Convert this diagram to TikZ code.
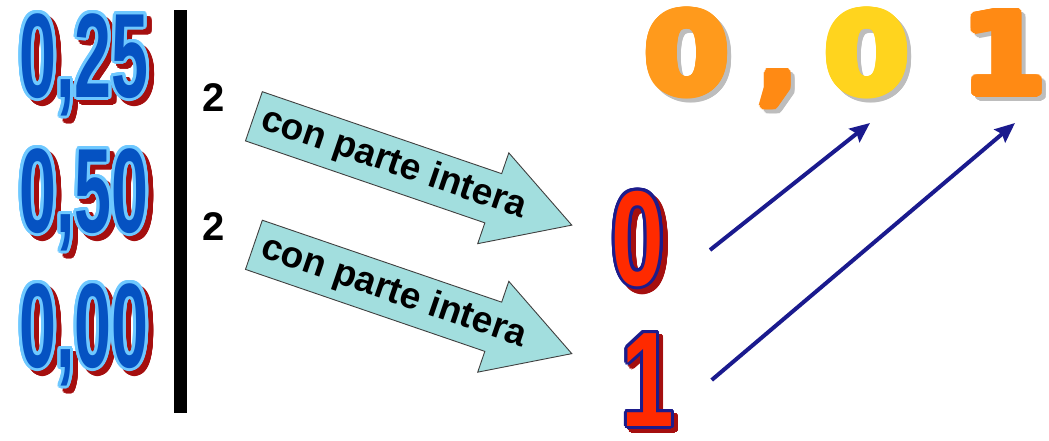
\documentclass[tikz,border=0pt]{standalone}
\usepackage{fontspec}
\setmainfont{Liberation Sans}
\newfontfamily\djv{DejaVu Sans}
\usepackage{contour}
\contournumber{24}
\usetikzlibrary{arrows.meta}
\definecolor{numblue}{HTML}{0552C2}
\definecolor{numlight}{HTML}{6EC8FF}
\definecolor{shadred}{HTML}{A50F0F}
\definecolor{digred}{HTML}{FF2A00}
\definecolor{dignavy}{HTML}{1C1C8C}
\definecolor{arrcyan}{HTML}{A2DEDE}
\definecolor{arrnavy}{HTML}{1A1A8E}
\definecolor{orA}{HTML}{FF9A1C}
\definecolor{orB}{HTML}{FFD41E}
\definecolor{orC}{HTML}{FF8A14}
\definecolor{shgrey}{HTML}{BDBDBD}
\newcommand\leftnum[2]{\contourlength{3pt}\contour{#1}{\scalebox{0.553}[1]{\bfseries\fontsize{120}{120}\selectfont #2}}}
\newcommand\reddig[2]{\contourlength{3pt}\contour{#1}{\scalebox{0.7}[1]{\bfseries\fontsize{135}{135}\selectfont #2}}}
\newcommand\topdig[2]{\contourlength{4pt}\contour{#1}{\scalebox{1.1}[1]{\djv\bfseries\fontsize{111}{111}\selectfont #2}}}
\newcommand\topcomma[2]{\contourlength{4pt}\contour{#1}{\scalebox{0.95}[0.9]{\djv\bfseries\fontsize{111}{111}\selectfont #2}}}
\tikzset{
  txt/.style={inner sep=0pt, outer sep=0pt},
  cyanarrow/.style={draw=black!75, line width=0.9pt, fill=arrcyan, line join=miter},
  arrowtext/.style={inner sep=0pt, font=\bfseries\fontsize{37}{37}\selectfont, rotate=-18.9},
  navyarrow/.style={draw=arrnavy, line width=4pt, -{Stealth[length=20pt,width=17pt,inset=3pt]}},
  two/.style={inner sep=0pt, font=\bfseries\fontsize{40}{40}\selectfont}
}
\begin{document}
\begin{tikzpicture}[x=1pt,y=1pt]
\useasboundingbox (0,0) rectangle (1049,-440);
% left numbers
\node[txt, anchor=base, text=shadred] (n25s) at (89,-102) {\leftnum{shadred}{0,25}};
\node[txt, anchor=base, text=numblue] (n25) at (84,-97) {\leftnum{numlight}{0,25}};
\node[txt, anchor=base, text=shadred] (n50s) at (89,-237) {\leftnum{shadred}{0,50}};
\node[txt, anchor=base, text=numblue] (n50) at (84,-232) {\leftnum{numlight}{0,50}};
\node[txt, anchor=base, text=shadred] (n00s) at (89,-372) {\leftnum{shadred}{0,00}};
\node[txt, anchor=base, text=numblue] (n00) at (84,-367) {\leftnum{numlight}{0,00}};
% bar
\fill[black] (174,-9.5) rectangle (186.5,-413);
% twos
\node[two] (twoA) at (213.5,-98) {2};
\node[two] (twoB) at (213.5,-226.5) {2};
% cyan arrows
\begin{scope}[shift={(253.9,-116.3)}, rotate=-18.9]
  \draw[cyanarrow] (0,26)--(253,26)--(253,48)--(336,0)--(253,-48)--(253,-26)--(0,-26)--cycle;
  \node[arrowtext] (cpA) at (148,0) {con parte intera};
\end{scope}
\begin{scope}[shift={(253.9,-244.8)}, rotate=-18.9]
  \draw[cyanarrow] (0,26)--(253,26)--(253,48)--(336,0)--(253,-48)--(253,-26)--(0,-26)--cycle;
  \node[arrowtext] (cpB) at (148,0) {con parte intera};
\end{scope}
% red digits
\node[txt, anchor=base, text=shadred] (r0s) at (643,-290) {\reddig{shadred}{0}};
\node[txt, anchor=base, text=digred] (r0) at (638,-285) {\reddig{dignavy}{0}};
\node[txt, anchor=base, text=shadred] (r1s) at (652,-430) {\reddig{shadred}{1}};
\node[txt, anchor=base, text=digred] (r1) at (648,-426) {\reddig{dignavy}{1}};
% top result
\node[txt, anchor=base, text=shgrey] (t0s) at (690.7,-97) {\topdig{shgrey}{0}};
\node[txt, anchor=base, text=orA] (t0) at (686.7,-93) {\topdig{orA}{0}};
\node[txt, text=shgrey] (tcs) at (782,-95) {\topcomma{shgrey}{,}};
\node[txt, text=orC] (tc) at (778,-91) {\topcomma{orC}{,}};
\node[txt, anchor=base, text=shgrey] (t1s) at (871,-97) {\topdig{shgrey}{0}};
\node[txt, anchor=base, text=orB] (t1) at (867,-93) {\topdig{orB}{0}};
\node[txt, anchor=base, text=shgrey] (t2s) at (1008,-97) {\topdig{shgrey}{1}};
\node[txt, anchor=base, text=orC] (t2) at (1004,-93) {\topdig{orC}{1}};
% navy arrows
\coordinate (s0) at (710,-250);
\coordinate (e0) at (870,-123);
\coordinate (s1) at (711.7,-380);
\coordinate (e1) at (1015,-123);
\draw[navyarrow] (s0) -- (e0);
\draw[navyarrow] (s1) -- (e1);
\end{tikzpicture}
\end{document}
